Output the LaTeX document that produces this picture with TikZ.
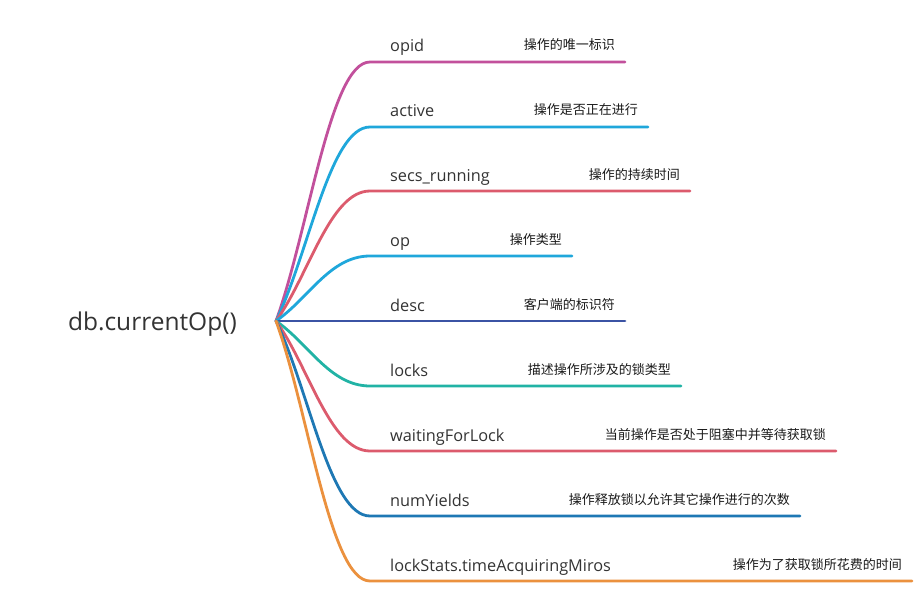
\documentclass[tikz,border=0pt]{standalone}
\usepackage{fontspec}
\setmainfont{Open Sans}
\newfontfamily\cjk{Noto Sans CJK SC}
\usetikzlibrary{calc}

\definecolor{opidc}{RGB}{194,80,156}
\definecolor{cyanc}{RGB}{31,167,219}
\definecolor{rosec}{RGB}{220,91,109}
\definecolor{navyc}{RGB}{59,83,164}
\definecolor{tealc}{RGB}{33,179,165}
\definecolor{bluec}{RGB}{30,120,180}
\definecolor{orangec}{RGB}{235,145,62}

\tikzset{
  branch/.style={line width=2.8pt, line cap=round},
  roottext/.style={anchor=base east, inner sep=0pt, text=black!80, font=\fontsize{24.5}{29}\selectfont},
  keytext/.style={anchor=base west, inner sep=0pt, text=black!80, font=\fontsize{16.3}{19}\selectfont},
  desctext/.style={anchor=base east, inner sep=0pt, text=black!90, font=\cjk\fontsize{13}{15}\selectfont},
}

\begin{document}
\begin{tikzpicture}[x=1pt,y=-1pt]
    \useasboundingbox (0,0) rectangle (921,615);
    \node[roottext] (root) at (237,330) {db.currentOp()};
    \coordinate (hub) at (276,321);

    \coordinate (k1) at (370,62);
    \coordinate (e1) at (625,62);
    \draw[branch,opidc] (hub) .. controls ($(hub)!0.35!(k1)$) and ($(k1)+(-40,0)$) .. (k1) -- (e1);
    \node[keytext] (n1) at ($(k1)+(20,-10)$) {opid};
    \node[desctext] (d1) at ($(e1)+(-10,-12)$) {操作的唯一标识};

    \coordinate (k2) at (370,127);
    \coordinate (e2) at (648,127);
    \draw[branch,cyanc] (hub) .. controls ($(hub)!0.35!(k2)$) and ($(k2)+(-40,0)$) .. (k2) -- (e2);
    \node[keytext] (n2) at ($(k2)+(20,-10)$) {active};
    \node[desctext] (d2) at ($(e2)+(-10,-12)$) {操作是否正在进行};

    \coordinate (k3) at (370,191);
    \coordinate (e3) at (690,191);
    \draw[branch,rosec] (hub) .. controls ($(hub)!0.35!(k3)$) and ($(k3)+(-40,0)$) .. (k3) -- (e3);
    \node[keytext] (n3) at ($(k3)+(20,-10)$) {secs\_running};
    \node[desctext] (d3) at ($(e3)+(-10,-12)$) {操作的持续时间};

    \coordinate (k4) at (370,256);
    \coordinate (e4) at (572,256);
    \draw[branch,cyanc] (hub) .. controls ($(hub)!0.35!(k4)$) and ($(k4)+(-40,0)$) .. (k4) -- (e4);
    \node[keytext] (n4) at ($(k4)+(20,-10)$) {op};
    \node[desctext] (d4) at ($(e4)+(-10,-12)$) {操作类型};

    \coordinate (k5) at (370,321);
    \coordinate (e5) at (625,321);
    \draw[branch,navyc] (hub) -- (k5) -- (e5);
    \node[keytext] (n5) at ($(k5)+(20,-10)$) {desc};
    \node[desctext] (d5) at ($(e5)+(-10,-12)$) {客户端的标识符};

    \coordinate (k6) at (370,386);
    \coordinate (e6) at (681,386);
    \draw[branch,tealc] (hub) .. controls ($(hub)!0.35!(k6)$) and ($(k6)+(-40,0)$) .. (k6) -- (e6);
    \node[keytext] (n6) at ($(k6)+(20,-10)$) {locks};
    \node[desctext] (d6) at ($(e6)+(-10,-12)$) {描述操作所涉及的锁类型};

    \coordinate (k7) at (370,451);
    \coordinate (e7) at (836,451);
    \draw[branch,rosec] (hub) .. controls ($(hub)!0.35!(k7)$) and ($(k7)+(-40,0)$) .. (k7) -- (e7);
    \node[keytext] (n7) at ($(k7)+(20,-10)$) {waitingForLock};
    \node[desctext] (d7) at ($(e7)+(-10,-12)$) {当前操作是否处于阻塞中并等待获取锁};

    \coordinate (k8) at (370,516);
    \coordinate (e8) at (800,516);
    \draw[branch,bluec] (hub) .. controls ($(hub)!0.35!(k8)$) and ($(k8)+(-40,0)$) .. (k8) -- (e8);
    \node[keytext] (n8) at ($(k8)+(20,-10)$) {numYields};
    \node[desctext] (d8) at ($(e8)+(-10,-12)$) {操作释放锁以允许其它操作进行的次数};

    \coordinate (k9) at (370,581);
    \coordinate (e9) at (912,581);
    \draw[branch,orangec] (hub) .. controls ($(hub)!0.35!(k9)$) and ($(k9)+(-40,0)$) .. (k9) -- (e9);
    \node[keytext] (n9) at ($(k9)+(20,-10)$) {lockStats.timeAcquiringMiros};
    \node[desctext] (d9) at ($(e9)+(-10,-12)$) {操作为了获取锁所花费的时间};
\end{tikzpicture}
\end{document}
